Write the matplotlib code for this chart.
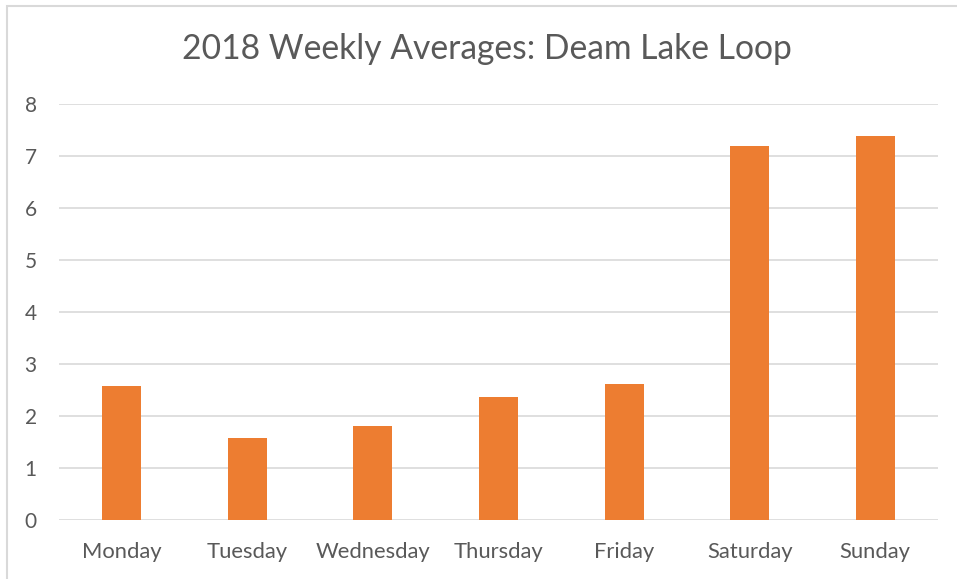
import matplotlib.pyplot as plt
from matplotlib.patches import Rectangle

days = ['Monday', 'Tuesday', 'Wednesday', 'Thursday', 'Friday', 'Saturday', 'Sunday']
averages = [2.58, 1.58, 1.81, 2.37, 2.61, 7.20, 7.39]

plt.rcParams['font.family'] = ['Lato', 'DejaVu Sans']

fig = plt.figure(figsize=(9.57, 5.79), dpi=100)
ax = fig.add_axes([59 / 957, 59 / 579, 879 / 957, 416 / 579])

ax.bar(range(len(days)), averages, width=0.31, color='#ED7D31', zorder=3)

ax.set_xlim(-0.5, len(days) - 0.5)
ax.set_ylim(0, 8)
ax.set_yticks(range(0, 9))
ax.set_xticks(range(len(days)))
ax.set_xticklabels(days)
ax.tick_params(axis='both', length=0, labelsize=15, colors='#595959')
ax.tick_params(axis='x', labelsize=15.8, pad=16)
ax.tick_params(axis='y', pad=16)
ax.grid(True, axis='y', color='#D9D9D9', linewidth=1.2, zorder=0)
for s in ax.spines.values():
    s.set_visible(False)

fig.text(487 / 957, 1 - 49 / 579, '2018 Weekly Averages: Deam Lake Loop',
         ha='center', va='center', fontsize=24.2, color='#595959')

# chart border (only top and left visible in the crop)
fig.patches.append(Rectangle((7 / 957, -0.1), 1.2, 1 - 5.5 / 579 + 0.1,
                             transform=fig.transFigure, fill=False,
                             edgecolor='#D9D9D9', linewidth=1.5))

fig.savefig('out.png', dpi=100)
